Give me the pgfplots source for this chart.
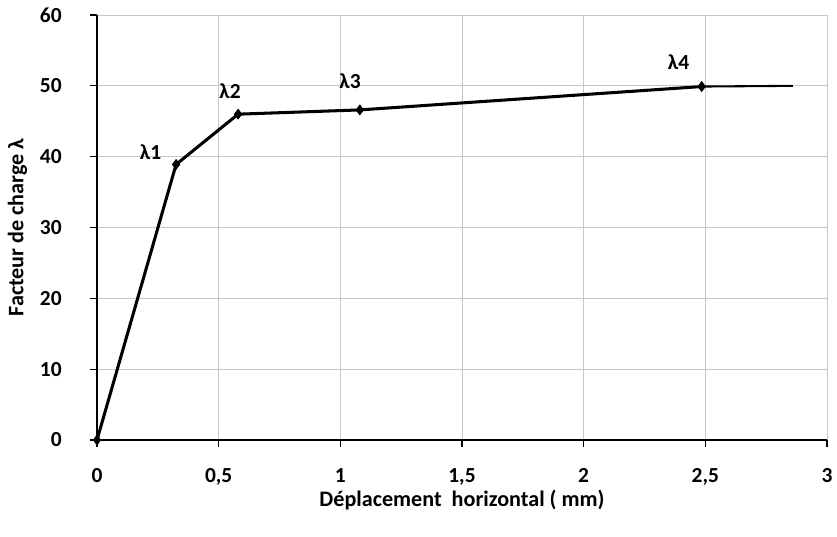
\documentclass[border=0pt]{standalone}
\usepackage{fontspec}
\setmainfont{Carlito}
\usepackage{pgfplots}
\pgfplotsset{compat=1.18}
\begin{document}
\begin{tikzpicture}
\path[use as bounding box] (-0.97in,-0.97in) rectangle (7.40in,4.40in);
\begin{axis}[
  at={(0,0)}, anchor=south west,
  scale only axis, width=7.30in, height=4.25in,
  xmin=0, xmax=3, ymin=0, ymax=60,
  xtick={0,0.5,...,3}, ytick={0,10,...,60},
  axis lines=left, axis line style={-, black, line width=0.8pt},
  tick align=outside, major tick length=5pt,
  tick style={black, line width=0.8pt},
  grid=major, major grid style={gray!45, line width=0.7pt},
  /pgf/number format/assume math mode=true,
  /pgf/number format/use comma,
  ticklabel style={font=\fontsize{15.5}{18}\selectfont\bfseries},
  xticklabel style={yshift=-12pt},
  yticklabel style={xshift=-17pt},
  label style={font=\fontsize{16}{19}\selectfont\bfseries},
  xlabel={Déplacement\ \ horizontal ( mm)},
  ylabel={Facteur de charge λ},
  xlabel style={at={(axis description cs:0.5,0)}, yshift=-33pt, anchor=north},
  ylabel style={at={(axis description cs:0,0.5)}, yshift=47pt},
  clip=false,
]
\addplot[black, line width=2.2pt, mark=diamond*, mark size=3.6pt, mark options={line width=0.5pt}]
  coordinates {(0,0) (0.325,38.9) (0.58,46.0) (1.08,46.6) (2.485,49.9)};
\addplot[black, line width=1.5pt] coordinates {(2.485,49.9) (2.86,50)};
\node[font=\fontsize{15.5}{18}\selectfont\bfseries] at (axis cs:0.22,40.7) {λ1};
\node[font=\fontsize{15.5}{18}\selectfont\bfseries] at (axis cs:0.547,49.2) {λ2};
\node[font=\fontsize{15.5}{18}\selectfont\bfseries] at (axis cs:1.04,50.6) {λ3};
\node[font=\fontsize{15.5}{18}\selectfont\bfseries] at (axis cs:2.39,53.4) {λ4};
\end{axis}
\end{tikzpicture}
\end{document}
